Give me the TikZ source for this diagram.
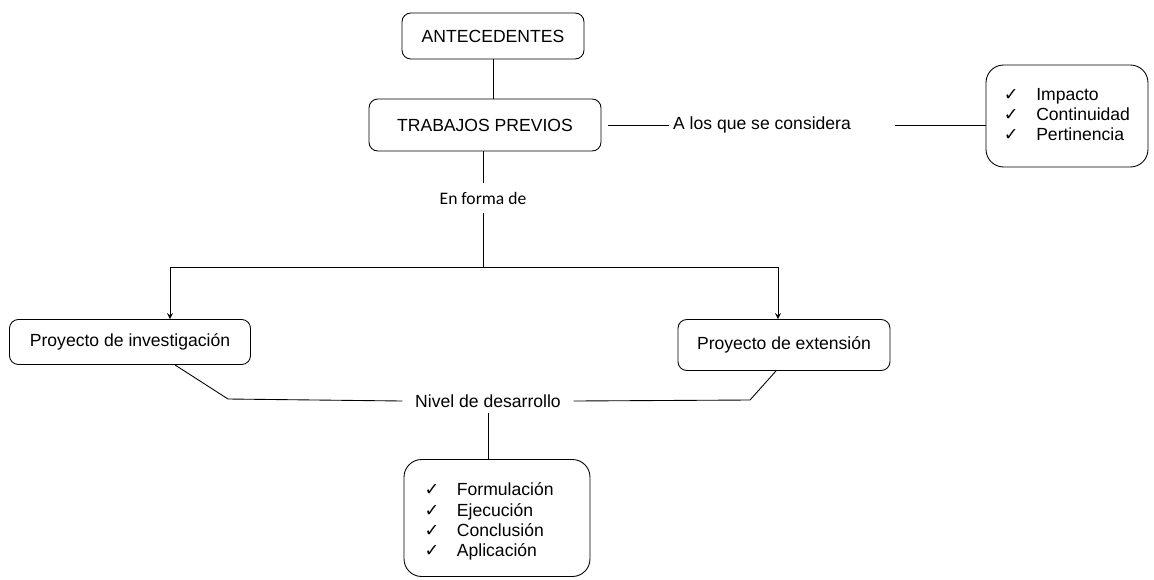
\documentclass[tikz,border=0pt]{standalone}
\usepackage{fontspec}
\setmainfont{Liberation Sans}
\newfontfamily\calfont{Carlito}
\newfontfamily\symfont{DejaVu Sans}
\newcommand{\chk}{{\symfont ✓}}
\usepackage{tikz}

\begin{document}
\begin{tikzpicture}[x=0.02cm, y=-0.02cm, >=stealth, line width=0.5pt]
	\tikzstyle{every node} = [font=\fontsize{10}{12}\selectfont]
	\tikzstyle{caja} = [draw, rounded corners=5pt, align=center]
	\tikzstyle{lista} = [draw, rounded corners=10pt, align=left]
	\useasboundingbox (0,0) rectangle (1154,579);
	\node[caja, minimum width=3.64cm, minimum height=0.92cm] (ante) at (493,36) {ANTECEDENTES};
	\node[caja, minimum width=4.64cm, minimum height=1.04cm] (trab) at (485,125) {TRABAJOS PREVIOS};
	\node[inner xsep=2pt] (consid) at (762,125) {A los que se considera};
	\node[lista, minimum width=3.24cm, minimum height=2.04cm] (crit) at (1067,116) {%
		\begin{tabular}{@{}l@{\hspace{10pt}}l@{}}
			\chk & Impacto\\[-0.5pt]
			\chk & Continuidad\\[-0.5pt]
			\chk & Pertinencia
		\end{tabular}};
	\node[font=\calfont\fontsize{10}{12}\selectfont, inner ysep=5pt] (forma) at (483,198) {En forma de};
	\coordinate (split) at (483,267);
	\coordinate (splitL) at (170,267);
	\coordinate (splitR) at (778,267);
	\node[caja, minimum width=4.82cm, minimum height=0.9cm] (inv) at (130,342) {Proyecto de investigación};
	\node[caja, minimum width=4.24cm, minimum height=1.02cm] (ext) at (784,345) {Proyecto de extensión};
	\node[inner xsep=0.25cm, inner ysep=3pt] (nivel) at (488,401) {Nivel de desarrollo};
	\coordinate (kneeL) at (228,399);
	\coordinate (kneeR) at (750,400);
	\node[lista, minimum width=3.72cm, minimum height=2.34cm] (fases) at (497,518) {%
		\begin{tabular}{@{}l@{\hspace{10pt}}l@{\hspace{9pt}}}
			\rule{0pt}{13pt}\chk & Formulación\\[-0.5pt]
			\chk & Ejecución\\[-0.5pt]
			\chk & Conclusión\\[-0.5pt]
			\chk & Aplicación
		\end{tabular}};
	\draw (ante.south)--(ante.south |- trab.north);
	\draw ([xshift=0.14cm]trab.east)--(consid.west);
	\draw ([xshift=0.8cm]consid.east)--(crit.west |- consid);
	\draw (trab.south -| forma)--(forma.north);
	\draw (forma.south)--(split);
	\draw (splitL)--(splitR);
	\draw [->] (splitL)--(splitL |- inv.north);
	\draw [->] (splitR)--(splitR |- ext.north);
	\draw ([xshift=0.9cm]inv.south)--(kneeL)--(nivel.west);
	\draw (nivel.east)--(kneeR)--([xshift=-0.16cm]ext.south);
	\draw (nivel.south)--(nivel.south |- fases.north);
\end{tikzpicture}
\end{document}
